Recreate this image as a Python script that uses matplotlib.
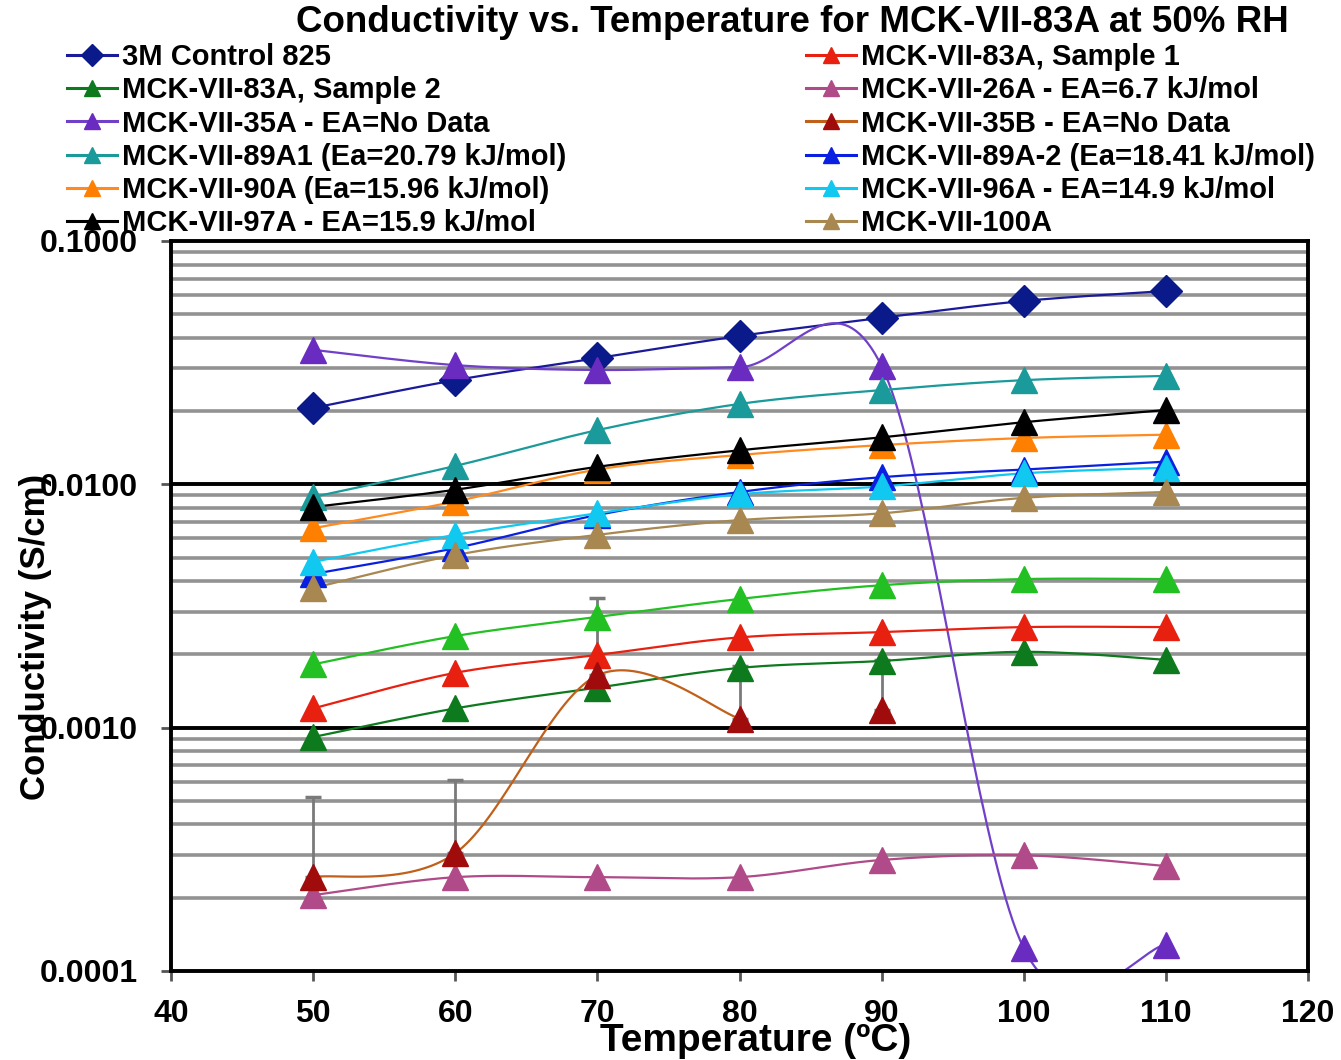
import numpy as np
import matplotlib
matplotlib.use('Agg')
import matplotlib.pyplot as plt
from matplotlib.lines import Line2D
from matplotlib.ticker import FixedLocator, FuncFormatter, NullFormatter

plt.rcParams['font.family'] = ['Liberation Sans', 'DejaVu Sans']
plt.rcParams['font.weight'] = 'bold'

# temperatures (C)
temps = [50, 60, 70, 80, 90, 100, 110]
temps_35b = [50, 60, 70, 80, 90]

# conductivity (S/cm)
control_825 = [0.0206, 0.0268, 0.0330, 0.0407, 0.0483, 0.0567, 0.0623]
s83a_1 = [0.00120, 0.00168, 0.00199, 0.00235, 0.00247, 0.00259, 0.00259]
s83a_2 = [0.000915, 0.00120, 0.00146, 0.00176, 0.00188, 0.00205, 0.00190]
s83a_avg = [0.00182, 0.00238, 0.00285, 0.00338, 0.00385, 0.00408, 0.00408]
s26a = [0.000205, 0.000243, 0.000243, 0.000243, 0.000286, 0.000299, 0.000270]
s35a = [0.0357, 0.0309, 0.0295, 0.0303, 0.0306, 0.000124, 0.000128]
s35b = [0.000243, 0.000305, 0.00164, 0.00109, 0.00118]
s35b_top = [0.00052, 0.00061, 0.0034, 0.0018, 0.0019]
s89a1 = [0.00887, 0.0119, 0.0167, 0.0214, 0.0244, 0.0268, 0.0279]
s89a2 = [0.00428, 0.00547, 0.00748, 0.0093, 0.0107, 0.0115, 0.0124]
s90a = [0.0066, 0.0085, 0.0115, 0.0132, 0.0145, 0.0155, 0.0160]
s96a = [0.0048, 0.0062, 0.0076, 0.0091, 0.0098, 0.0111, 0.0117]
s97a = [0.00807, 0.0095, 0.0118, 0.0138, 0.0156, 0.0180, 0.0202]
s100a = [0.00375, 0.00512, 0.0062, 0.00713, 0.0076, 0.0088, 0.0093]


def smooth(x, y, n=40):
    # Excel-style smoothed line: bezier through points, done in (x, log y)
    px = np.asarray(x, float)
    py = np.log10(np.asarray(y, float))
    m = len(px)
    xs, ys = [], []
    for i in range(m - 1):
        a = max(i - 1, 0)
        d = min(i + 2, m - 1)
        c1x = px[i] + (px[i + 1] - px[a]) / 6
        c1y = py[i] + (py[i + 1] - py[a]) / 6
        c2x = px[i + 1] - (px[d] - px[i]) / 6
        c2y = py[i + 1] - (py[d] - py[i]) / 6
        t = np.linspace(0, 1, n)
        b0, b1, b2, b3 = (1 - t) ** 3, 3 * t * (1 - t) ** 2, 3 * t ** 2 * (1 - t), t ** 3
        xs.append(b0 * px[i] + b1 * c1x + b2 * c2x + b3 * px[i + 1])
        ys.append(b0 * py[i] + b1 * c1y + b2 * c2y + b3 * py[i + 1])
    return np.concatenate(xs), 10 ** np.concatenate(ys)


fig = plt.figure(figsize=(13.41, 10.6), dpi=100)
ax = fig.add_axes([171 / 1341, 1 - 971 / 1060, 1137 / 1341, 730 / 1060])
ax.set_yscale('log')
ax.set_xlim(40, 120)
ax.set_ylim(0.0001, 0.1)

# horizontal grid: gray minor, black major
for dec in [0.0001, 0.001, 0.01]:
    for k in range(2, 10):
        ax.axhline(dec * k, color='#929292', lw=2.6, zorder=0)
for v in [0.001, 0.01]:
    ax.axhline(v, color='black', lw=2.8, zorder=0.5)

# error bars on MCK-VII-35B (plus direction only)
up = np.array(s35b_top) - np.array(s35b)
ax.errorbar(temps_35b, s35b, yerr=[np.zeros(len(up)), up], fmt='none',
            ecolor='#7a7a7a', elinewidth=2, capsize=6, capthick=2.5, zorder=1)

# (x, y, points joined by the line, line colour, marker colour, marker, label)
series = [
    (temps, control_825, 7, '#1a1a9a', '#0a1a8a', 'D', '3M Control 825'),
    (temps, s83a_2, 7, '#0e7a1e', '#0e7a1e', '^', 'MCK-VII-83A, Sample 2'),
    (temps, s35a, 7, '#7040c8', '#6a2bc0', '^', 'MCK-VII-35A - EA=No Data'),
    (temps, s89a1, 7, '#1a9a9a', '#1a9a9a', '^', 'MCK-VII-89A1 (Ea=20.79 kJ/mol)'),
    (temps, s90a, 7, '#ff8a20', '#ff8000', '^', 'MCK-VII-90A (Ea=15.96 kJ/mol)'),
    (temps, s97a, 7, '#000000', '#000000', '^', 'MCK-VII-97A - EA=15.9 kJ/mol'),
    (temps, s83a_1, 7, '#e82010', '#e82010', '^', 'MCK-VII-83A, Sample 1'),
    (temps, s26a, 7, '#b04a88', '#b04a88', '^', 'MCK-VII-26A - EA=6.7 kJ/mol'),
    (temps_35b, s35b, 4, '#c0601a', '#a00c0c', '^', 'MCK-VII-35B - EA=No Data'),
    (temps, s89a2, 7, '#0a20e0', '#0a20e0', '^', 'MCK-VII-89A-2 (Ea=18.41 kJ/mol)'),
    (temps, s96a, 7, '#10c8f0', '#10c8f0', '^', 'MCK-VII-96A - EA=14.9 kJ/mol'),
    (temps, s100a, 7, '#a88850', '#a88850', '^', 'MCK-VII-100A'),
    (temps, s83a_avg, 7, '#22c022', '#22c022', '^', None),
]

handles, labels = [], []
for x, y, nl, lc, mc, mk, lab in series:
    sx, sy = smooth(x[:nl], y[:nl])
    ax.plot(sx, sy, color=lc, lw=1.6, zorder=2)
    ms = 16 if mk == 'D' else 19
    ax.plot(x, y, linestyle='none', marker=mk, ms=ms, mfc=mc, mec=mc, zorder=3)
    if lab:
        handles.append(Line2D([], [], color=lc, lw=2.2, marker=mk, ms=11, mfc=mc, mec=mc))
        labels.append(lab)

ax.yaxis.set_major_locator(FixedLocator([0.0001, 0.001, 0.01, 0.1]))
ax.yaxis.set_major_formatter(FuncFormatter(lambda v, p: '%.4f' % v))
ax.yaxis.set_minor_formatter(NullFormatter())
ax.yaxis.set_minor_locator(FixedLocator([]))
ax.set_xticks([40, 50, 60, 70, 80, 90, 100, 110, 120])
ax.tick_params(axis='both', labelsize=23, width=2, length=7, direction='out', color='#555555')
ax.tick_params(axis='y', pad=17)
ax.tick_params(axis='x', pad=13)
for lab in ax.get_xticklabels() + ax.get_yticklabels():
    lab.set_fontweight('bold')
for s in ax.spines.values():
    s.set_linewidth(2.8)

fig.text(36 / 1341, 1 - 637 / 1060, 'Conductivity (S/cm)', rotation=90, fontsize=25,
         ha='center', va='center', fontweight='bold')
fig.text(756 / 1341, 1 - 1041 / 1060, 'Temperature (ºC)', fontsize=28,
         ha='center', va='center', fontweight='bold')
fig.text(792 / 1341, 1 - 22 / 1060, 'Conductivity vs. Temperature for MCK-VII-83A at 50% RH',
         fontsize=26.5, ha='center', va='center', fontweight='bold')

fig.legend(handles, labels, ncol=2, loc='upper left', bbox_to_anchor=(67 / 1341, 1 - 43 / 1060),
           frameon=False, fontsize=21, handlelength=1.7, handletextpad=0.2,
           labelspacing=0.18, columnspacing=8.2, borderaxespad=0, borderpad=0)

fig.savefig('out.png', dpi=100)
